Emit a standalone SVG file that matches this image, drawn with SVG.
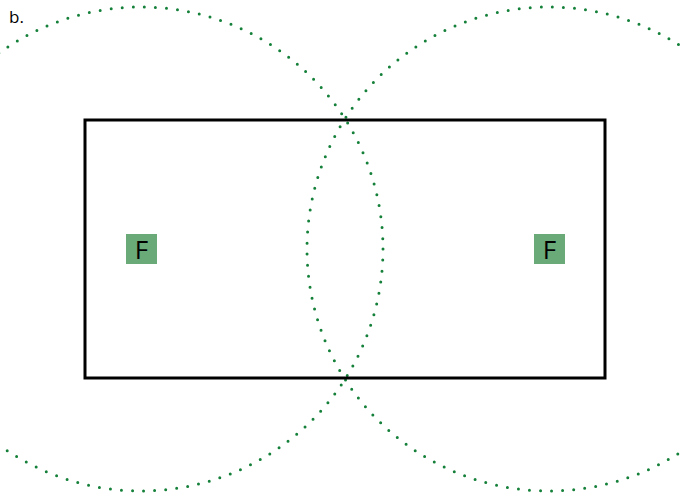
<svg xmlns="http://www.w3.org/2000/svg" width="681" height="496" viewBox="0 0 681 496">
<style>
.dot{fill:none;stroke:#15803a;stroke-width:3;stroke-linecap:round;stroke-dasharray:0 11.1}
.fbox{fill:#6aaa78}
.ft{font-family:"Open Sans","Liberation Sans",Arial,sans-serif;font-weight:500;font-size:26px;fill:#000;text-anchor:middle}
</style>
<rect width="681" height="496" fill="#fff"/>
<text x="9" y="23" font-family="'Open Sans','Liberation Sans',Arial,sans-serif" font-size="17" fill="#000">b.</text>
<g id="connectors">
<circle class="dot" cx="141" cy="249" r="242"/>
<circle class="dot" cx="549" cy="249" r="242"/>
</g>
<g id="frame">
<rect x="85" y="120" width="520" height="258" fill="none" stroke="#000" stroke-width="3"/>
</g>
<g id="f-left">
<rect class="fbox" x="126" y="234" width="31" height="30"/>
<text class="ft" x="141.5" y="258.5">F</text>
</g>
<g id="f-right">
<rect class="fbox" x="534" y="234" width="31" height="30"/>
<text class="ft" x="549.5" y="258.5">F</text>
</g>
</svg>
